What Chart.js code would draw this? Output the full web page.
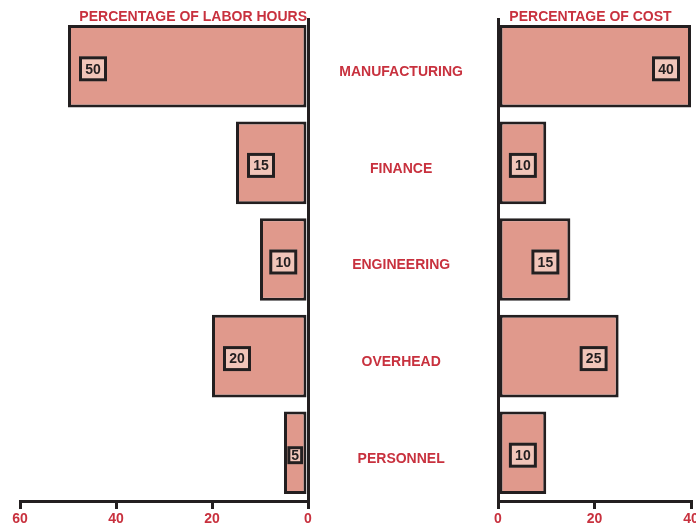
<!DOCTYPE html>
<html><head><meta charset="utf-8">
<script src="https://cdn.jsdelivr.net/npm/chart.js@4.4.1/dist/chart.umd.min.js"></script>
<style>
html,body{margin:0;padding:0;background:#fff;overflow:hidden;width:696px;height:527px;}
#left{position:absolute;left:0;top:0;width:330px;height:527px;}
#right{position:absolute;left:330px;top:0;width:366px;height:527px;}
</style></head><body>
<canvas id="left" width="330" height="527"></canvas>
<canvas id="right" width="366" height="527"></canvas>
<script>
const categories = ['MANUFACTURING', 'FINANCE', 'ENGINEERING', 'OVERHEAD', 'PERSONNEL'];
const laborHours = [50, 15, 10, 20, 5];
const cost = [40, 10, 15, 25, 10];
const laborTicks = [0, 20, 40, 60];
const costTicks = [0, 20, 40];
const laborTitle = 'PERCENTAGE OF LABOR HOURS';
const costTitle = 'PERCENTAGE OF COST';

const FONT = '"Liberation Sans", Arial, Helvetica, sans-serif';
const FILL = '#e0998c';
const DARK = '#231f20';
const BOX = '#f1c5b9';
const RED = '#c8313e';

const boxPlugin = {
  id: 'valueBoxes',
  afterDatasetsDraw(chart) {
    const ctx = chart.ctx;
    const meta = chart.getDatasetMeta(0);
    const data = chart.data.datasets[0].data;
    ctx.save();
    ctx.font = 'bold 14px ' + FONT;
    meta.data.forEach((bar, i) => {
      const txt = String(data[i]);
      const tw = ctx.measureText(txt).width;
      const len = Math.abs(bar.x - bar.base);
      const dir = Math.sign(bar.x - bar.base);
      let w, h;
      if (len >= 40) { w = 28; h = 25; } else { w = tw + 8; h = 18; }
      let cx;
      if (len < w + 24) cx = (bar.x + bar.base) / 2; else cx = bar.x - dir * (11 + w / 2);
      const cy = bar.y + 2.5;
      ctx.fillStyle = BOX;
      ctx.fillRect(cx - w / 2, cy - h / 2, w, h);
      ctx.lineWidth = 3;
      ctx.strokeStyle = DARK;
      ctx.strokeRect(cx - w / 2 + 1.5, cy - h / 2 + 1.5, w - 3, h - 3);
      ctx.fillStyle = DARK;
      ctx.textAlign = 'center';
      ctx.textBaseline = 'middle';
      ctx.fillText(txt, cx, cy + 1);
    });
    ctx.restore();
  }
};

const titlePlugin = {
  id: 'sideTitle',
  afterDraw(chart, args, opts) {
    const { ctx, chartArea } = chart;
    ctx.save();
    ctx.font = 'bold 14px ' + FONT;
    ctx.fillStyle = RED;
    ctx.textBaseline = 'alphabetic';
    let x;
    if (opts.align === 'end') { ctx.textAlign = 'right'; x = chartArea.right - 1; }
    else { ctx.textAlign = 'center'; x = (chartArea.left + chartArea.right) / 2 - 4; }
    ctx.fillText(opts.text, x, 21);
    ctx.restore();
  }
};

function xScale(max, reverse, tickVals) {
  return {
    type: 'linear', min: 0, max: max, reverse: reverse, position: 'bottom',
    afterBuildTicks: s => { s.ticks = tickVals.map(v => ({ value: v })); },
    afterFit: s => { s.height = 26; s.paddingLeft = 0; s.paddingRight = 0; },
    grid: {
      drawOnChartArea: true, drawTicks: true, tickLength: 8,
      color: c => (c.tick && c.tick.value === 0) ? DARK : 'rgba(0,0,0,0)',
      lineWidth: 3, tickColor: DARK, tickWidth: 3
    },
    border: { display: true, color: DARK, width: 3 },
    ticks: { color: RED, font: { family: FONT, size: 14, weight: 'bold' }, padding: 2, maxRotation: 0, autoSkip: false }
  };
}

function dataset(values) {
  return {
    data: values, backgroundColor: FILL, borderColor: DARK, borderWidth: 3,
    borderSkipped: false, barPercentage: 0.855, categoryPercentage: 1
  };
}

new Chart(document.getElementById('left'), {
  type: 'bar',
  data: { labels: categories, datasets: [dataset(laborHours)] },
  options: {
    indexAxis: 'y', responsive: false, animation: false,
    layout: { padding: { top: 18, left: 20, right: 22, bottom: 0 } },
    plugins: { legend: { display: false }, tooltip: { enabled: false }, sideTitle: { text: laborTitle, align: 'end' } },
    scales: {
      x: xScale(60, true, laborTicks),
      y: {
        position: 'right',
        grid: { display: false, drawTicks: false },
        border: { display: false },
        ticks: { display: false },
        afterFit: s => { s.width = 0; s.paddingTop = 0; s.paddingBottom = 0; }
      }
    }
  },
  plugins: [boxPlugin, titlePlugin]
});

new Chart(document.getElementById('right'), {
  type: 'bar',
  data: { labels: categories, datasets: [dataset(cost)] },
  options: {
    indexAxis: 'y', responsive: false, animation: false,
    layout: { padding: { top: 18, left: 0, right: 5, bottom: 0 } },
    plugins: { legend: { display: false }, tooltip: { enabled: false }, sideTitle: { text: costTitle, align: 'center' } },
    scales: {
      x: xScale(40, false, costTicks),
      y: {
        position: 'left',
        grid: { display: false, drawTicks: false },
        border: { display: false },
        ticks: { color: RED, font: { family: FONT, size: 14, weight: 'bold' }, crossAlign: 'center', padding: 35, labelOffset: 6 },
        afterFit: s => { s.width = 168; s.paddingTop = 0; s.paddingBottom = 0; }
      }
    }
  },
  plugins: [boxPlugin, titlePlugin]
});
</script>
</body></html>
